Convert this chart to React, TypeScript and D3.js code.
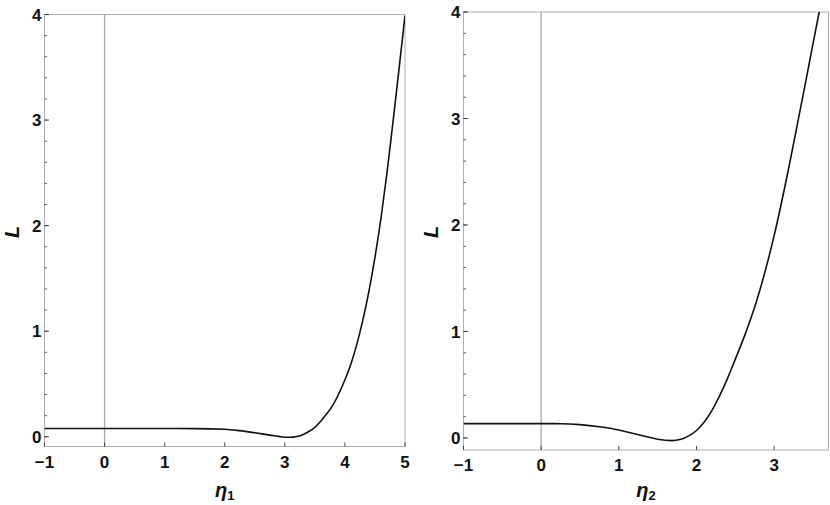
import React from "react";
import * as d3 from "d3";

// Left panel: L vs eta1
const eta1X = [-1, 0, 1, 1.5, 2, 2.25, 2.5, 2.75, 2.9, 3.0, 3.1, 3.2, 3.3, 3.4, 3.5, 3.6, 3.7, 3.8, 3.9, 4.0, 4.1, 4.2, 4.3, 4.4, 4.5, 4.6, 4.7, 4.8, 4.9, 5.0];
const eta1L = [0.078, 0.078, 0.078, 0.077, 0.072, 0.058, 0.038, 0.016, 0.004, -0.004, -0.005, 0.003, 0.02, 0.05, 0.09, 0.15, 0.22, 0.3, 0.41, 0.54, 0.69, 0.88, 1.11, 1.38, 1.7, 2.07, 2.5, 2.98, 3.48, 3.99];

// Right panel: L vs eta2
const eta2X = [-1, 0, 0.25, 0.5, 0.75, 1.0, 1.2, 1.36, 1.5, 1.68, 1.8, 1.9, 2.0, 2.1, 2.2, 2.3, 2.4, 2.5, 2.63, 2.78, 3.0, 3.2, 3.3, 3.4, 3.5, 3.58, 3.65];
const eta2L = [0.135, 0.135, 0.134, 0.125, 0.105, 0.075, 0.04, 0.012, -0.012, -0.025, -0.012, 0.02, 0.07, 0.15, 0.26, 0.4, 0.56, 0.74, 0.98, 1.3, 1.9, 2.58, 2.95, 3.32, 3.7, 4.0, 4.26];

const yMajor = [0, 1, 2, 3, 4];
const yMinor = d3.range(0, 4.0001, 0.2);
const xTicks1 = [-1, 0, 1, 2, 3, 4, 5];
const xTicks2 = [-1, 0, 1, 2, 3];

type PanelProps = {
  id: string;
  xs: number[];
  ls: number[];
  xDomain: [number, number];
  yDomain: [number, number];
  left: number;
  right: number;
  top: number;
  bottom: number;
  xTicks: number[];
  sub: string;
};

const fmt = (v: number) => (v < 0 ? "\u2212" + Math.abs(v) : String(v));

function Panel(p: PanelProps) {
  const x = d3.scaleLinear().domain(p.xDomain).range([p.left, p.right]);
  const y = d3.scaleLinear().domain(p.yDomain).range([p.bottom, p.top]);
  const data = p.xs.map((v, i) => [v, p.ls[i]] as [number, number]);
  const line = d3
    .line<[number, number]>()
    .x((d) => x(d[0]))
    .y((d) => y(d[1]))
    .curve(d3.curveMonotoneX);
  const cx = (p.left + p.right) / 2;
  const font = "'Liberation Sans', Arial, sans-serif";
  return (
    <g>
      <defs>
        <clipPath id={p.id}>
          <rect x={p.left} y={p.top} width={p.right - p.left} height={p.bottom - p.top} />
        </clipPath>
      </defs>
      {/* vertical axis at x=0 */}
      <line x1={x(0)} x2={x(0)} y1={p.top} y2={p.bottom} stroke="#a8a8a8" strokeWidth={1.3} />
      {/* frame */}
      <rect
        x={p.left}
        y={p.top}
        width={p.right - p.left}
        height={p.bottom - p.top}
        fill="none"
        stroke="#b0b0b0"
        strokeWidth={1}
      />
      {/* y ticks */}
      {yMinor.map((v) => (
        <line key={"mn" + v} x1={p.left} x2={p.left + 2.5} y1={y(v)} y2={y(v)} stroke="#333" strokeWidth={0.8} />
      ))}
      {yMajor.map((v) => (
        <g key={"mj" + v}>
          <line x1={p.left} x2={p.left + 4.5} y1={y(v)} y2={y(v)} stroke="#333" strokeWidth={0.9} />
          <text
            x={p.left - 3}
            y={y(v)}
            dy="0.36em"
            textAnchor="end"
            fontFamily={font}
            fontWeight="bold"
            fontSize={17}
            fill="#111"
          >
            {fmt(v)}
          </text>
        </g>
      ))}
      {/* x ticks */}
      {p.xTicks.map((v) => (
        <g key={"xt" + v}>
          <line x1={x(v)} x2={x(v)} y1={p.bottom} y2={p.bottom - 4} stroke="#333" strokeWidth={0.9} />
          <text
            x={x(v)}
            y={p.bottom + 21}
            textAnchor="middle"
            fontFamily={font}
            fontWeight="bold"
            fontSize={17}
            fill="#111"
          >
            {fmt(v)}
          </text>
        </g>
      ))}
      {/* curve */}
      <path d={line(data) || ""} fill="none" stroke="#111" strokeWidth={1.6} clipPath={`url(#${p.id})`} />
      {/* y label */}
      <text
        transform={`translate(${p.left - 26},${232}) rotate(-90)`}
        textAnchor="middle"
        fontFamily={font}
        fontWeight="bold"
        fontStyle="italic"
        fontSize={20}
        fill="#111"
      >
        L
      </text>
      {/* x label */}
      <text x={cx} y={497} textAnchor="middle" fontFamily={font} fontWeight="bold" fontSize={20} fill="#111">
        <tspan fontStyle="italic">η</tspan>
        <tspan fontSize={13} dy={3}>
          {p.sub}
        </tspan>
      </text>
    </g>
  );
}

export default function App() {
  return (
    <svg
      width={830}
      height={505}
      style={{ position: "absolute", left: 0, top: 0, background: "#fff" }}
    >
      <rect width={830} height={505} fill="#fff" />
      <Panel
        id="clipL"
        xs={eta1X}
        ls={eta1L}
        xDomain={[-1, 5]}
        yDomain={[-0.092, 4]}
        left={44.5}
        right={405}
        top={14.5}
        bottom={446.5}
        xTicks={xTicks1}
        sub="1"
      />
      <Panel
        id="clipR"
        xs={eta2X}
        ls={eta2L}
        xDomain={[-1, 3.7]}
        yDomain={[-0.113, 4.0]}
        left={463.5}
        right={828.5}
        top={12}
        bottom={450}
        xTicks={xTicks2}
        sub="2"
      />
    </svg>
  );
}
